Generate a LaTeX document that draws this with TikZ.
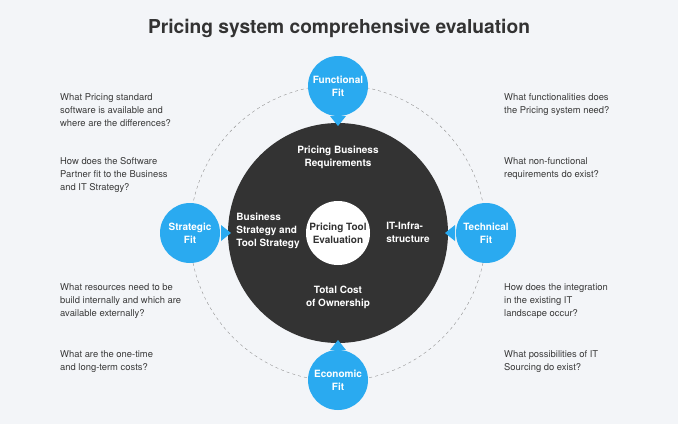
\documentclass[tikz,border=0pt]{standalone}
\usepackage{fontspec}
\setmainfont{TeX Gyre Heros}
\definecolor{bg}{HTML}{F3F5F8}
\definecolor{blu}{HTML}{2AAAF0}
\definecolor{drk}{HTML}{333333}
\definecolor{txt}{HTML}{3A3A3A}
\begin{document}
\begin{tikzpicture}[x=1pt,y=-1pt,
  q/.style={anchor=north west,align=left,font=\fontsize{9.4}{13}\selectfont,text=txt,inner sep=0pt},
  bl/.style={circle,fill=blu,minimum size=60pt,inner sep=0pt,align=center,text=white,font=\fontsize{10}{13}\selectfont\bfseries},
  wl/.style={align=center,text=white,font=\fontsize{10}{13}\selectfont\bfseries},
  tri/.style={fill=blu}]
\fill[bg] (0,0) rectangle (678,424);
\useasboundingbox (0,0) rectangle (678,424);
\node[font=\fontsize{19.2}{22}\selectfont\bfseries,text=drk] (title) at (339,28) {Pricing system comprehensive evaluation};
\draw[gray!85,dashed,dash pattern=on 3pt off 3pt] (338,233) circle (148);
\fill[drk] (338,233) circle (110);
\node[circle,fill=white,minimum size=64pt,inner sep=0pt,align=center,text=drk,font=\fontsize{10}{13}\selectfont\bfseries] (core) at (338,233) {Pricing Tool\\Evaluation};
\fill[tri] (330,116) -- (346,116) -- (338,126) -- cycle;
\fill[tri] (330,350) -- (346,350) -- (338,340) -- cycle;
\fill[tri] (221,225) -- (221,241) -- (231,233) -- cycle;
\fill[tri] (455,225) -- (455,241) -- (445,233) -- cycle;
\node[bl] (func) at (338,86) {Functional\\Fit};
\node[bl] (econ) at (338,380) {Economic\\Fit};
\node[bl] (strat) at (190,233) {Strategic\\Fit};
\node[bl] (tech) at (486,233) {Technical\\Fit};
\node[wl] (req) at (338,157) {Pricing Business\\Requirements};
\node[wl] (tco) at (338,297) {Total Cost\\of Ownership};
\node[wl,align=left] (bus) at (268,231) {Business\\Strategy and\\Tool Strategy};
\node[wl,align=left] (it) at (408,232) {IT-Infra-\\structure};
\node[q] (q1) at (60,93) {What Pricing standard\\software is available and\\where are the differences?};
\node[q] (q2) at (60,157) {How does the Software\\Partner fit to the Business\\and IT Strategy?};
\node[q] (q3) at (60,283) {What resources need to be\\build internally and which are\\available externally?};
\node[q] (q4) at (60,350) {What are the one-time\\and long-term costs?};
\node[q] (q5) at (504,93) {What functionalities does\\the Pricing system need?};
\node[q] (q6) at (504,157) {What non-functional\\requirements do exist?};
\node[q] (q7) at (504,283) {How does the integration\\in the existing IT\\landscape occur?};
\node[q] (q8) at (504,350) {What possibilities of IT\\Sourcing do exist?};
\end{tikzpicture}
\end{document}
